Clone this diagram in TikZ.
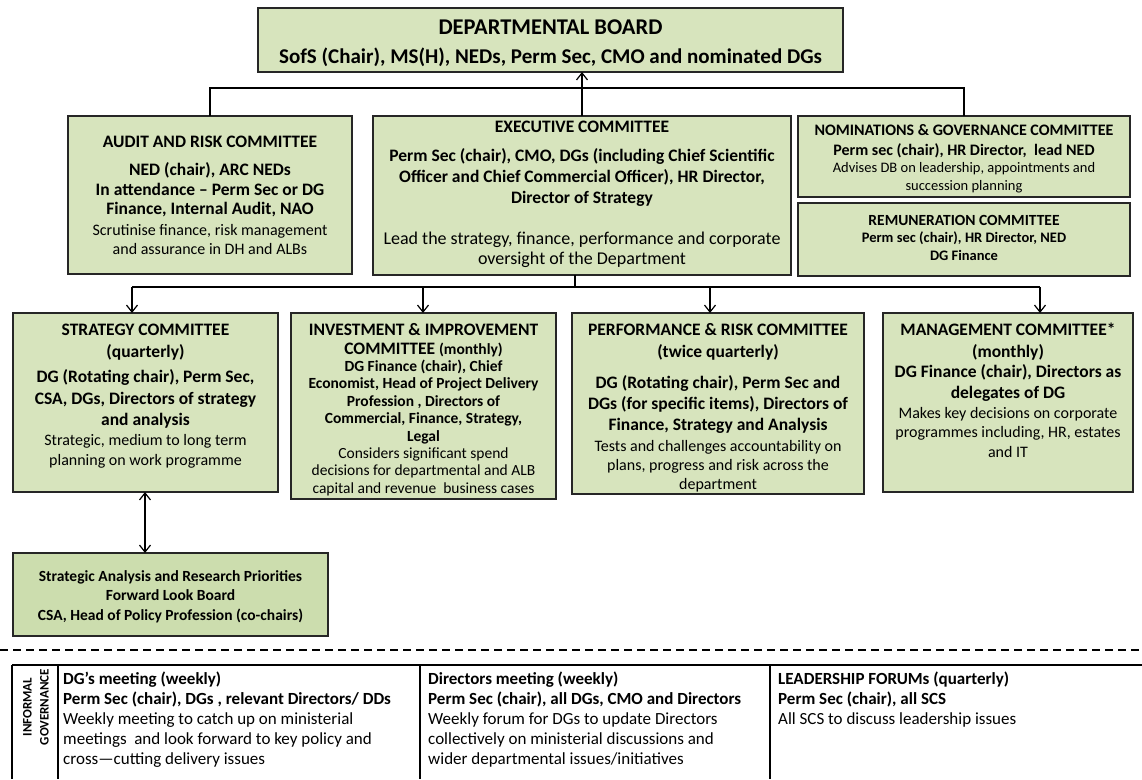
\documentclass[tikz,border=0pt]{standalone}
\usepackage{fontspec}
\setmainfont{Carlito}
\usetikzlibrary{arrows.meta}
\definecolor{boxgreen}{HTML}{D7E4BD}
\definecolor{boxgreenb}{HTML}{CCDDAE}
\newcommand\fs[2]{\fontsize{#1}{#2}\selectfont}
\begin{document}
\begin{tikzpicture}[x=1pt,y=-1pt,
  box/.style={draw=black!85, line width=1.4pt, fill=boxgreen, inner sep=0pt, outer sep=0pt, rectangle, anchor=north west},
  conn/.style={line width=1.3pt, black},
  arr/.style={conn, -{Straight Barb[length=7pt,width=11pt,line width=1.2pt]}},
  dbl/.style={conn, {Straight Barb[length=7pt,width=11pt,line width=1.2pt]}-{Straight Barb[length=7pt,width=11pt,line width=1.2pt]}},
  txt/.style={align=center, inner sep=0pt, anchor=base},
  ltxt/.style={align=left, inner sep=0pt, anchor=base west},
  tline/.style={line width=1.2pt, black}]
\useasboundingbox (0,0) rectangle (1142,779);

% boxes
\node[box, minimum width=585, minimum height=64] (board) at (258,8) {};
\node[box, minimum width=284, minimum height=158] (audit) at (68,116) {};
\node[box, minimum width=418, minimum height=159] (exec) at (373,116) {};
\node[box, minimum width=332, minimum height=81] (nom) at (798,116) {};
\node[box, minimum width=332, minimum height=73] (rem) at (798,203) {};
\node[box, minimum width=265, minimum height=179] (strat) at (13,313) {};
\node[box, minimum width=265, minimum height=186] (inv) at (291,313) {};
\node[box, minimum width=292, minimum height=181] (perf) at (572,313) {};
\node[box, minimum width=250, minimum height=179] (mgmt) at (883,313) {};
\node[box, fill=boxgreenb, minimum width=315, minimum height=83] (sarp) at (13,553) {};

% texts (anchor base = baseline of the last line)
\node[txt, font=\bfseries\fs{22.5}{26}] (boardt) at (550.5,34.5) {DEPARTMENTAL BOARD};
\node[txt, font=\bfseries\fs{21}{24}] (boards) at (550.5,63.5) {SofS (Chair), MS(H), NEDs, Perm Sec, CMO and nominated DGs};

\node[txt, font=\bfseries\fs{17.5}{21}] (auditt) at (210,147.5) {AUDIT AND RISK COMMITTEE};
\node[txt, font=\bfseries\fs{17.5}{19.5}] (auditb) at (210,214.5) {NED (chair), ARC NEDs\\In attendance -- Perm Sec or DG\\Finance, Internal Audit, NAO};
\node[txt, font=\fs{16}{19}] (auditr) at (210,254) {Scrutinise finance, risk management\\and assurance in DH and ALBs};

\node[txt, font=\bfseries\fs{17.5}{21}] (exect) at (582,132.5) {EXECUTIVE COMMITTEE};
\node[txt, font=\bfseries\fs{17.5}{21}] (execb) at (582,203.5) {Perm Sec (chair), CMO, DGs (including Chief Scientific\\Officer and Chief Commercial Officer), HR Director,\\Director of Strategy};
\node[txt, font=\fs{18}{19.5}] (execr) at (582,264) {Lead the strategy, finance, performance and corporate\\oversight of the Department};

\node[txt, font=\bfseries\fs{16}{20}] (nomt) at (964,135) {NOMINATIONS \& GOVERNANCE COMMITTEE};
\node[txt, font=\bfseries\fs{16}{20}] (nomb) at (964,155) {Perm sec (chair), HR Director,\ \ lead NED};
\node[txt, font=\fs{14.5}{17.5}] (nomr) at (964,190) {Advises DB on leadership, appointments and\\succession planning};

\node[txt, font=\bfseries\fs{15.5}{18}] (remt) at (964,225) {REMUNERATION COMMITTEE};
\node[txt, font=\bfseries\fs{14.5}{17.5}] (remb) at (964,260) {Perm sec (chair), HR Director, NED\\DG Finance};

\node[txt, font=\bfseries\fs{17.5}{22}] (stratt) at (145.5,357.5) {STRATEGY COMMITTEE\\(quarterly)};
\node[txt, font=\bfseries\fs{17.5}{21.5}] (stratb) at (145.5,425.5) {DG (Rotating chair), Perm Sec,\\CSA, DGs, Directors of strategy\\and analysis};
\node[txt, font=\fs{16}{20}] (stratr) at (145.5,465) {Strategic, medium to long term\\planning on work programme};

\node[txt, font=\bfseries\fs{17.5}{19}] (invt) at (423.5,354.5) {INVESTMENT \& IMPROVEMENT\\COMMITTEE {\fs{15.5}{19}(monthly)}};
\node[txt, font=\bfseries\fs{15.5}{17.5}] (invb) at (423.5,441) {DG Finance (chair), Chief\\Economist, Head of Project Delivery\\Profession , Directors of\\Commercial, Finance, Strategy,\\Legal};
\node[txt, font=\fs{15.5}{17.5}] (invr) at (423.5,493) {Considers significant spend\\decisions for departmental and ALB\\capital and revenue\ \ business cases};

\node[txt, font=\bfseries\fs{17.5}{22}] (perft) at (718,357.5) {PERFORMANCE \& RISK COMMITTEE\\(twice quarterly)};
\node[txt, font=\bfseries\fs{17.5}{21}] (perfb) at (718,430.5) {DG (Rotating chair), Perm Sec and\\DGs (for specific items), Directors of\\Finance, Strategy and Analysis};
\node[txt, font=\fs{16}{19}] (perfr) at (718,489) {Tests and challenges accountability on\\plans, progress and risk across the\\department};

\node[txt, font=\bfseries\fs{17.5}{22}] (mgmtt) at (1008,357.5) {MANAGEMENT COMMITTEE*\\(monthly)};
\node[txt, font=\bfseries\fs{17.5}{21}] (mgmtb) at (1008,398.5) {DG Finance (chair), Directors as\\delegates of DG};
\node[txt, font=\fs{16}{19.5}] (mgmtr) at (1008,457) {Makes key decisions on corporate\\programmes including, HR, estates\\and IT};

\node[txt, font=\bfseries\fs{15.5}{19.5}] (sarpt) at (170.5,620) {Strategic Analysis and Research Priorities\\Forward Look Board\\CSA, Head of Policy Profession (co-chairs)};

% top connectors
\coordinate (topbus) at (0,88);
\draw[conn] (audit.north) -- (audit.north |- topbus) -- (nom.north |- topbus) -- (nom.north);
\draw[arr] (exec.north) -- (exec.north |- board.south);

% lower connectors
\coordinate (botbus) at (0,287);
\coordinate (execdown) at (575,275);
\coordinate (sa) at (132,313);
\coordinate (ia) at (423,313);
\coordinate (pa) at (710,313);
\coordinate (ma) at (1040,313);
\draw[conn] (execdown) -- (execdown |- botbus);
\draw[conn] (sa |- botbus) -- (ma |- botbus);
\draw[arr] (sa |- botbus) -- (sa);
\draw[arr] (ia |- botbus) -- (ia);
\draw[arr] (pa |- botbus) -- (pa);
\draw[arr] (ma |- botbus) -- (ma);
\coordinate (da) at (145,492);
\draw[dbl] (da) -- (da |- sarp.north);

% dashed separator
\coordinate (dl) at (0,650);
\coordinate (dr) at (1142,650);
\draw[line width=1.2pt, dash pattern=on 8pt off 5pt] (dl) -- (dr);

% informal governance table
\coordinate (t0) at (12,665);
\coordinate (tE) at (1142,665);
\draw[tline] (t0) -- (tE);
\draw[tline] (12,665) -- (12,779);
\draw[tline] (58,665) -- (58,779);
\draw[tline] (420,665) -- (420,779);
\draw[tline] (770,665) -- (770,779);
\node[rotate=90, font=\bfseries\fs{13}{17}, align=center, inner sep=0pt] (ig) at (36,707) {INFORMAL\\GOVERNANCE};
\node[ltxt, font=\fs{17}{20}] (c1) at (63,764.5) {\textbf{DG’s meeting (weekly)}\\\textbf{Perm Sec (chair), DGs , relevant Directors/ DDs}\\Weekly meeting to catch up on ministerial\\meetings\ \ and look forward to key policy and\\cross—cutting delivery issues};
\node[ltxt, font=\fs{17}{20}] (c2) at (428,764.5) {\textbf{Directors meeting (weekly)}\\\textbf{Perm Sec (chair), all DGs, CMO and Directors}\\Weekly forum for DGs to update Directors\\collectively on ministerial discussions and\\wider departmental issues/initiatives};
\node[ltxt, font=\fs{17}{20}] (c3) at (778,724.5) {\textbf{LEADERSHIP FORUMs (quarterly)}\\\textbf{Perm Sec (chair), all SCS}\\All SCS to discuss leadership issues};
\end{tikzpicture}
\end{document}
